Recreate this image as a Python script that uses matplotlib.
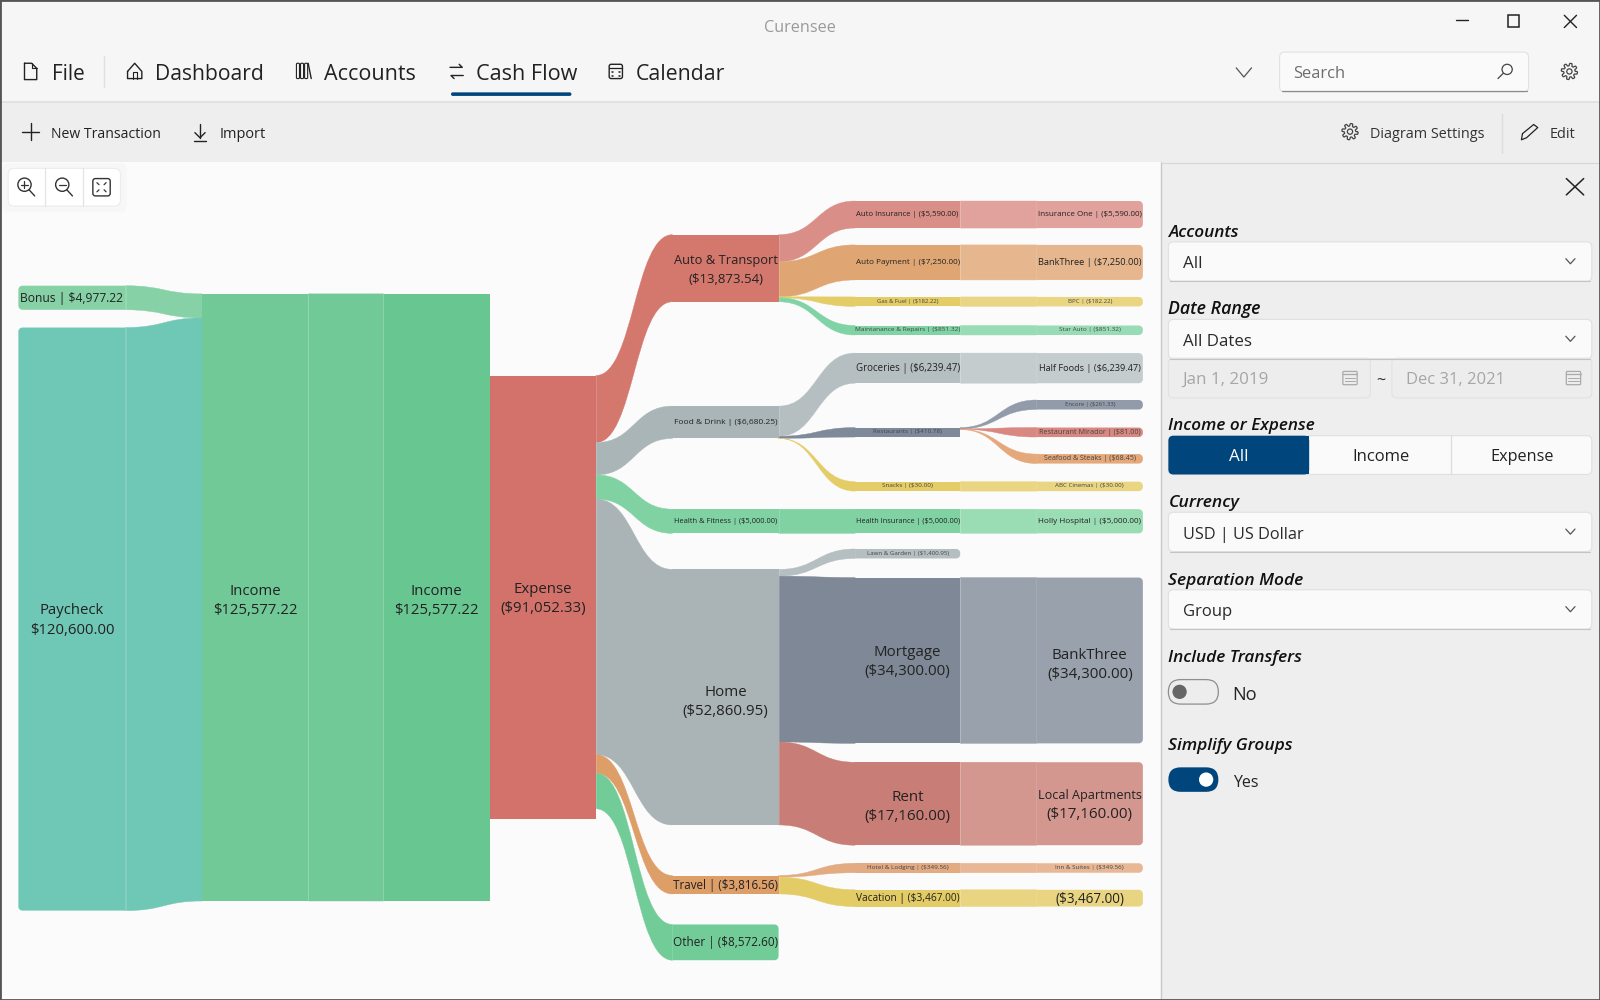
import matplotlib

matplotlib.use("Agg")

import matplotlib.pyplot as plt
import numpy as np
from matplotlib.patches import Circle, FancyBboxPatch, PathPatch, Rectangle
from matplotlib.path import Path

plt.rcParams["font.family"] = ["Open Sans", "DejaVu Sans"]

# sankey nodes
node_names = [
    "Bonus", "Paycheck", "Income", "Income", "Expense",
    "Auto & Transport", "Food & Drink", "Health & Fitness", "Home", "Travel", "Other",
    "Auto Insurance", "Auto Payment", "Gas & Fuel", "Maintanance & Repairs",
    "Groceries", "Restaurants", "Snacks", "Health Insurance", "Lawn & Garden",
    "Mortgage", "Rent", "Hotel & Lodging", "Vacation",
    "Insurance One", "BankThree", "BPC", "Star Auto", "Half Foods",
    "Encore", "Restaurant Mirador", "Seafood & Steaks", "ABC Cinemas",
    "Holly Hospital", "BankThree", "Local Apartments", "Inn & Suites", "",
]
node_values = [
    4977.22, 120600.00, 125577.22, 125577.22, -91052.33,
    -13873.54, -6680.25, -5000.00, -52860.95, -3816.56, -8572.60,
    -5590.00, -7250.00, -182.22, -851.32,
    -6239.47, -410.78, -30.00, -5000.00, -1400.95,
    -34300.00, -17160.00, -349.56, -3467.00,
    -5590.00, -7250.00, -182.22, -851.32, -6239.47,
    -261.33, -81.00, -68.45, -30.00,
    -5000.00, -34300.00, -17160.00, -349.56, -3467.00,
]
link_sources = [0, 1, 2, 4, 4, 4, 4, 4, 4, 5, 5, 5, 5, 6, 6, 6, 7, 8, 8, 8, 9, 9,
                11, 12, 13, 14, 15, 16, 16, 16, 17, 18, 20, 21, 22, 23]
link_targets = [2, 2, 3, 5, 6, 7, 8, 9, 10, 11, 12, 13, 14, 15, 16, 17, 18, 19, 20, 21, 22, 23,
                24, 25, 26, 27, 28, 29, 30, 31, 32, 33, 34, 35, 36, 37]

# layout of the nodes
SCALE = 0.004738
MIN_HEIGHT = 9.3
COLUMNS = [(18, 123), (198, 302), (376, 480), (480, 584), (659, 763), (838, 941), (1016, 1120)]
node_cols = [0, 0, 1, 2, 3, 4, 4, 4, 4, 4, 4, 5, 5, 5, 5, 5, 5, 5, 5, 5, 5, 5, 5, 5,
             6, 6, 6, 6, 6, 6, 6, 6, 6, 6, 6, 6, 6, 6]
node_tops = [280, 321, 288, 288, 368, 230, 398, 499, 558, 858, 906,
             197, 240, 291, 319, 346, 419, 472, 499, 538, 566, 747, 846, 872,
             197, 240, 291, 319, 346, 392, 419, 445, 472, 499, 566, 747, 846, 872]
height_overrides = {4: 435, 10: 35}
node_colors = [
    "#86d1a6", "#6fc7b6", "#72c998", "#68c690", "#d2726a",
    "#d4786e", "#aab5b7", "#80d2a3", "#aab3b5", "#dd9e68", "#72cc98",
    "#d98e87", "#dfa673", "#e4cc66", "#80d3a4", "#b5bfc1", "#7e8a9a", "#e4cc66",
    "#80d2a3", "#b5bfc1", "#7e8896", "#c87d76", "#e3ab82", "#e3cb65",
    "#e1a19c", "#e6b78e", "#ead682", "#98dcb5", "#c4cccd", "#919ba9", "#d98781",
    "#e4a87a", "#ead682", "#9adcb4", "#98a1ac", "#d49790", "#e8b896", "#e9d581",
]
# target width of each label (the value line on two line labels)
label_widths = [101, 83, 82, 82, 83, 74, 101, 101, 84, 102, 102,
                101, 101, 60, 102, 101, 67, 50, 102, 80, 84, 84, 80, 101,
                101, 101, 43, 60, 100, 49, 99, 90, 67, 101, 84, 84, 67, 68]
two_lines = {1, 2, 3, 4, 5, 8, 20, 21, 34, 35}
label_nudge = {2: 2, 3: 2, 8: 3, 21: 2, 34: 3}
round_left = {0, 1}
round_right = {10, 19, 24, 25, 26, 27, 28, 29, 30, 31, 32, 33, 34, 35, 36, 37}

INK = "#222222"
NAVY = "#00457c"

fig = plt.figure(figsize=(16, 10), dpi=100)
ax = fig.add_axes([0, 0, 1, 1])
ax.set_xlim(0, 1568)
ax.set_ylim(980, 0)
ax.axis("off")
renderer = fig.canvas.get_renderer()


def rect(x0, y0, x1, y1, color, zorder=1):
    ax.add_patch(Rectangle((x0, y0), x1 - x0, y1 - y0, fc=color, ec="none", zorder=zorder))


def rbox(x0, y0, x1, y1, fc, ec="none", radius=4, lw=1, zorder=2):
    ax.add_patch(FancyBboxPatch((x0 + radius, y0 + radius), x1 - x0 - 2 * radius, y1 - y0 - 2 * radius,
                                boxstyle=f"round,pad={radius},rounding_size={radius}",
                                fc=fc, ec=ec, lw=lw, zorder=zorder))


def line(xs, ys, color=INK, lw=1.0, zorder=5, alpha=None):
    ax.plot(xs, ys, color=color, lw=lw, zorder=zorder, alpha=alpha,
            solid_capstyle="round", solid_joinstyle="round")


def label(x, y, s, width=None, size=12, ha="left", va="center_baseline", color=INK, zorder=6, **kw):
    t = ax.text(x, y, s, ha=ha, va=va, color=color, fontsize=size, zorder=zorder, **kw)
    if width is not None:
        box = t.get_window_extent(renderer)
        t.set_fontsize(size * width * (1600 / 1568) / box.width)
    return t


def node_patch(x0, y0, x1, y1, color, left=False, right=False, r=4):
    if y1 - y0 < 2 * r:
        r = (y1 - y0) / 2
    k = 0.45 * r
    verts = [(x0 + r, y0) if left else (x0, y0)]
    codes = [Path.MOVETO]
    if right:
        verts += [(x1 - r, y0), (x1 - k, y0), (x1, y0 + k), (x1, y0 + r),
                  (x1, y1 - r), (x1, y1 - k), (x1 - k, y1), (x1 - r, y1)]
        codes += [Path.LINETO, Path.CURVE4, Path.CURVE4, Path.CURVE4,
                  Path.LINETO, Path.CURVE4, Path.CURVE4, Path.CURVE4]
    else:
        verts += [(x1, y0), (x1, y1)]
        codes += [Path.LINETO, Path.LINETO]
    if left:
        verts += [(x0 + r, y1), (x0 + k, y1), (x0, y1 - k), (x0, y1 - r),
                  (x0, y0 + r), (x0, y0 + k), (x0 + k, y0), (x0 + r, y0)]
        codes += [Path.LINETO, Path.CURVE4, Path.CURVE4, Path.CURVE4,
                  Path.LINETO, Path.CURVE4, Path.CURVE4, Path.CURVE4]
    else:
        verts += [(x0, y1), (x0, y0)]
        codes += [Path.LINETO, Path.LINETO]
    ax.add_patch(PathPatch(Path(verts, codes), fc=color, ec="none", zorder=3))


def ribbon(x0, x1, a0, a1, b0, b1, color):
    mid = (x0 + x1) / 2
    verts = [(x0, a0), (mid, a0), (mid, b0), (x1, b0), (x1, b1), (mid, b1), (mid, a1), (x0, a1), (x0, a0)]
    codes = [Path.MOVETO, Path.CURVE4, Path.CURVE4, Path.CURVE4, Path.LINETO,
             Path.CURVE4, Path.CURVE4, Path.CURVE4, Path.CLOSEPOLY]
    ax.add_patch(PathPatch(Path(verts, codes), fc=color, ec=color, lw=0.3, zorder=2))


def money(value):
    if value < 0:
        return f"(${-value:,.2f})"
    return f"${value:,.2f}"


def gear(cx, cy, r=8, color="#444444"):
    theta = np.linspace(0, 2 * np.pi, 241)
    radius = r * (0.84 + 0.16 * np.tanh(3 * np.sin(8 * theta)))
    line(cx + radius * np.cos(theta), cy + radius * np.sin(theta), color=color, lw=0.9)
    ax.add_patch(Circle((cx, cy), r * 0.32, fc="none", ec=color, lw=0.9, zorder=6))


def chevron(cx, cy, w=4.5, h=2.5, color="#555555", lw=0.9):
    line([cx - w, cx, cx + w], [cy - h, cy + h, cy - h], color=color, lw=lw)


def calendar(cx, cy, color="#aaaaaa"):
    rbox(cx - 7, cy - 6, cx + 7, cy + 7, "none", ec=color, radius=1, lw=0.9, zorder=5)
    line([cx - 7, cx + 7], [cy - 3, cy - 3], color=color, lw=0.9)
    for dy in (0, 3):
        line([cx - 5, cx + 5], [cy + dy, cy + dy], color=color, lw=0.7)


# window chrome
rect(0, 0, 1568, 980, "#fbfbfb", zorder=0)
rect(0, 0, 1568, 99, "#f6f6f6", zorder=0.5)
rect(0, 99, 1568, 100.5, "#e2e2e2", zorder=0.6)
rect(0, 100.5, 1568, 159, "#eeeeee", zorder=0.5)
rect(1138, 159, 1568, 980, "#eeeeee", zorder=0.5)
line([1138, 1138], [159, 980], color="#c8c8c8", lw=1.0, zorder=1)
line([1138, 1568], [159.5, 159.5], color="#d6d6d6", lw=0.8, zorder=1)
ax.add_patch(Rectangle((0, 0), 1568, 980, fc="none", ec="#555555", lw=2.0, zorder=20))

label(784, 25, "Curensee", width=70, ha="center", color="#9a9a9a")
line([1427, 1439], [20, 20], lw=1.0)
ax.add_patch(Rectangle((1477.5, 15), 11, 11, fc="none", ec=INK, lw=1.1, zorder=5))
line([1533, 1545], [15, 27], lw=1.0)
line([1533, 1545], [27, 15], lw=1.0)

# menu bar
label(51, 71, "File", width=32)
line([24, 31, 36, 36, 24, 24], [62, 62, 67, 78, 78, 62], lw=1.0)
line([31, 31, 36], [62, 67, 67], lw=0.8)
line([102, 102], [55, 85], color="#e0e0e0", lw=1.0)
label(152, 71, "Dashboard", width=106)
line([125, 132, 139, 139, 125, 125], [70, 62, 70, 77, 77, 70], lw=1.0)
line([130, 130, 134, 134], [77, 71, 71, 77], lw=0.8)
label(318, 71, "Accounts", width=89)
for bx in (290.5, 294.5, 298.5):
    rbox(bx, 62, bx + 3, 77, "none", ec=INK, radius=1, lw=0.8, zorder=5)
line([302, 305], [62, 77], lw=1.0)
label(466, 71, "Cash Flow", width=99)
line([441, 453, 450], [66, 66, 63], lw=1.0)
line([454, 442, 445], [74, 74, 77], lw=1.0)
rbox(442, 90.5, 560, 94, NAVY, radius=1.7, zorder=5)
label(623, 71, "Calendar", width=87)
rbox(597, 63, 610, 77, "none", ec=INK, radius=2, lw=1.0, zorder=5)
line([597, 610], [67, 67], lw=0.9)
for dx in (600, 603.5, 607):
    line([dx, dx + 0.5], [71, 71], lw=1.1)
    line([dx, dx + 0.5], [74, 74], lw=1.1)
chevron(1219, 71, w=7.5, h=4.5, color="#555555")
rbox(1254, 51, 1498, 90, "#fafafa", ec="#e2e2e2", radius=5, lw=0.8, zorder=3)
line([1256, 1496], [89.5, 89.5], color="#8a8a8a", lw=0.9, zorder=4)
label(1267, 71, "Search", width=51, color="#6e6e6e")
ax.add_patch(Circle((1477, 68), 5, fc="none", ec="#444444", lw=0.9, zorder=5))
line([1473, 1468], [72, 77], color="#444444", lw=0.9)
gear(1538, 70)

# toolbar
line([30, 30], [121, 137], lw=1.0)
line([22, 38], [129, 129], lw=1.0)
label(50, 130, "New Transaction", width=107)
line([196, 196], [122, 135], lw=1.0)
line([191, 196, 201], [130, 135, 130], lw=1.0)
line([190, 202], [138, 138], lw=1.0)
label(215, 130, "Import", width=45)
gear(1323, 129)
label(1343, 130, "Diagram Settings", width=111, color="#333333")
line([1472, 1472], [112, 150], color="#dcdcdc", lw=1.0)
line([1492, 1503, 1507, 1496, 1491, 1492], [131, 122, 125, 135, 137, 131], lw=0.9)
label(1519, 130, "Edit", width=25, color="#333333")

# zoom buttons
rbox(2, 160, 124, 208, "#f7f7f7", radius=6, zorder=1)
rbox(8, 165, 118, 202, "#ffffff", ec="#ececec", radius=6, lw=0.8, zorder=2)
for sx in (44, 81):
    line([sx, sx], [165, 202], color="#e4e4e4", lw=0.9, zorder=3)
for cx in (24, 61):
    ax.add_patch(Circle((cx, 181), 6.5, fc="none", ec="#333333", lw=1.0, zorder=5))
    line([cx + 4.5, cx + 10], [186, 192], color="#333333", lw=1.0)
    line([cx - 3.5, cx + 3.5], [181, 181], color="#333333", lw=0.9)
line([24, 24], [177.5, 184.5], color="#333333", lw=0.9)
rbox(91, 175, 108, 192, "none", ec="#333333", radius=2.5, lw=1.0, zorder=5)
line([95, 97], [179, 181], color="#333333", lw=0.9)
line([104, 102], [179, 181], color="#333333", lw=0.9)
line([95, 97], [188, 186], color="#333333", lw=0.9)
line([104, 102], [188, 186], color="#333333", lw=0.9)

# sankey
heights = [height_overrides.get(i, max(abs(v) * SCALE, MIN_HEIGHT)) for i, v in enumerate(node_values)]
out_count = [link_sources.count(i) for i in range(len(node_values))]
in_count = [link_targets.count(i) for i in range(len(node_values))]
out_used = [0.0] * len(node_values)
in_used = [0.0] * len(node_values)

for s, t in zip(link_sources, link_targets):
    x0 = COLUMNS[node_cols[s]][1]
    x1 = COLUMNS[node_cols[t]][0]
    thick = min(abs(node_values[s]), abs(node_values[t])) * SCALE
    src_h = heights[s] if out_count[s] == 1 else min(thick, heights[t])
    dst_h = heights[t] if in_count[t] == 1 else thick
    a0 = node_tops[s] + out_used[s]
    b0 = node_tops[t] + in_used[t]
    out_used[s] += src_h
    in_used[t] += dst_h
    if node_cols[s] <= 1:
        color = node_colors[s]
    else:
        color = node_colors[t]
    ribbon(x0, x1, a0, a0 + src_h, b0, b0 + dst_h, color)

for i, (col, top, h) in enumerate(zip(node_cols, node_tops, heights)):
    x0, x1 = COLUMNS[col]
    node_patch(x0, top, x1, top + h, node_colors[i], left=i in round_left, right=i in round_right)
    # faint seam where the node meets its ribbon
    seam = x0 if col == 6 else x1
    if h > 9.5 and i not in round_right | {3}:
        line([seam, seam], [top, top + h], color="#ffffff", lw=0.5, zorder=4, alpha=0.22)

    name, value = node_names[i], money(node_values[i])
    cy = top + h / 2 + label_nudge.get(i, 0)
    center = (x0 + x1) / 2
    tone = "#222222" if h > 15 else "#444444"
    if i in two_lines:
        t2 = label(center, cy + 11, value, width=label_widths[i], ha="center", va="center", color=tone)
        t1 = label(center, cy - 8, name, size=t2.get_fontsize(), ha="center", va="center", color=tone)
        name_w = t1.get_window_extent(renderer).width * 1568 / 1600
        if name_w > 101:
            label(center, cy - 8, name, width=101, ha="center", va="center", color=tone)
            t1.remove()
    else:
        text = f"{name} | {value}" if name else value
        label(center, cy - 1, text, width=label_widths[i], ha="center", color=tone)

# settings panel
line([1535, 1552], [175, 191], lw=1.1)
line([1535, 1552], [191, 175], lw=1.1)
headings = ["Accounts", "Date Range", "Income or Expense", "Currency",
            "Separation Mode", "Include Transfers", "Simplify Groups"]
heading_y = [226, 301, 416, 491, 567, 643, 729]
heading_w = [69, 90, 143, 69, 132, 131, 122]
for s, hy, hw in zip(headings, heading_y, heading_w):
    label(1145, hy, s, width=hw, style="italic", weight="semibold", color="#111111")

combos = ["All", "All Dates", "USD | US Dollar", "Group"]
combo_top = [237, 313, 502, 578]
combo_w = [19, 67, 118, 48]
for s, top, w in zip(combos, combo_top, combo_w):
    rbox(1145, top, 1560, top + 38.5, "#fafafa", ec="#e0e0e0", radius=5, lw=0.8, zorder=3)
    line([1147, 1558], [top + 38.5, top + 38.5], color="#c4c4c4", lw=0.8, zorder=4)
    label(1159, top + 20, s, width=w, color="#2a2a2a")
    chevron(1539, top + 19)

rbox(1145, 351, 1343, 390, "#ededed", ec="#e2e2e2", radius=5, lw=0.8, zorder=3)
rbox(1364, 351, 1560, 390, "#ededed", ec="#e2e2e2", radius=5, lw=0.8, zorder=3)
label(1159, 370, "Jan 1, 2019", width=84, color="#a6a6a6")
label(1378, 370, "Dec 31, 2021", width=97, color="#a6a6a6")
label(1353, 372, "~", width=9, ha="center", color="#333333")
calendar(1323, 370)
calendar(1542, 370)

rbox(1145, 427, 1560, 465, "#fafafa", ec="#e0e0e0", radius=5, lw=0.8, zorder=3)
rbox(1145, 427, 1283, 465, NAVY, radius=5, zorder=4)
rect(1270, 427, 1283, 465, NAVY, zorder=4)
line([1422, 1422], [427, 465], color="#dddddd", lw=1.0, zorder=4)
label(1214, 446, "All", width=19, ha="center", color="#ffffff")
label(1353, 446, "Income", width=56, ha="center")
label(1492, 446, "Expense", width=62, ha="center")

rbox(1145, 666, 1194, 690, "#ededed", ec="#8e8e8e", radius=12, lw=0.9, zorder=3)
ax.add_patch(Circle((1156, 678), 7, fc="#666666", ec="none", zorder=5))
label(1208, 679, "No", width=24)
rbox(1145, 752, 1194, 776, NAVY, radius=12, zorder=3)
ax.add_patch(Circle((1182, 764), 7, fc="#ffffff", ec="none", zorder=5))
label(1208, 765, "Yes", width=25)

fig.savefig("out.png", dpi=100)
